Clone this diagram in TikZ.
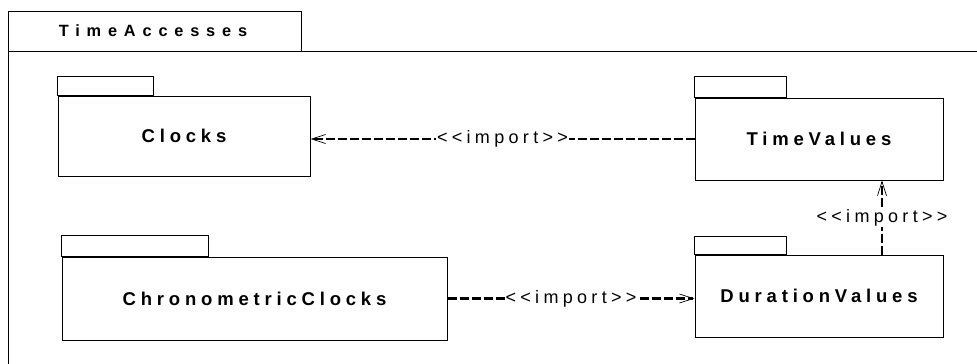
\documentclass[tikz,border=0pt]{standalone}
\usepackage{fontspec}
\setmainfont{Liberation Sans}
\newfontfamily\pkgfont[LetterSpace=26]{Liberation Sans}
\newfontfamily\titlefont[LetterSpace=42]{Liberation Sans}
\newfontfamily\lblfont[LetterSpace=24]{Liberation Sans}
\usetikzlibrary{arrows.meta}
\begin{document}
\begin{tikzpicture}[x=1pt,y=-1pt,
  pkg/.style={draw,line width=1pt,inner sep=0pt,font=\pkgfont\bfseries\fontsize{18.5}{20}\selectfont},
  tabbox/.style={draw,line width=1pt},
  dep/.style={line width=2.2pt,dash pattern=on 9pt off 3pt,
    -{Straight Barb[length=14pt,width=9pt,line width=0.7pt]}},
  lbl/.style={fill=white,inner sep=1pt,font=\lblfont\fontsize{18}{20}\selectfont}]
\useasboundingbox (0,0) rectangle (977,364);
% outer package
\draw[line width=1pt] (8,364) -- (8,11) -- (301,11) -- (301,51);
\draw[line width=1pt] (8,51) -- (977,51);
\node[font=\titlefont\bfseries\fontsize{16.3}{18}\selectfont] (title) at (153,31) {TimeAccesses};
% packages
\node[pkg,minimum width=252pt,minimum height=80pt] (clk) at (184,136) {Clocks};
\draw[tabbox] (clk.north west) rectangle ++(96,-19);
\node[pkg,minimum width=248pt,minimum height=82pt] (tv) at (819,139) {TimeValues};
\draw[tabbox] (tv.north west) rectangle ++(92,-21);
\node[pkg,minimum width=248pt,minimum height=82pt] (dv) at (819,296) {DurationValues};
\draw[tabbox] (dv.north west) rectangle ++(92,-18);
\node[pkg,minimum width=385pt,minimum height=83pt] (cc) at (254.5,298.5) {ChronometricClocks};
\draw[tabbox] (cc.north west) rectangle ++(147,-21);
% dependencies
\coordinate (vx) at (882,0);
\draw[dep] (tv.west) -- node[lbl] {<<import>>} (tv.west -| clk.east);
\draw[dep] (cc.east) -- node[lbl] {<<import>>} (cc.east -| dv.west);
\draw[dep] (dv.north -| vx) -- node[lbl] {<<import>>} (tv.south -| vx);
\end{tikzpicture}
\end{document}
